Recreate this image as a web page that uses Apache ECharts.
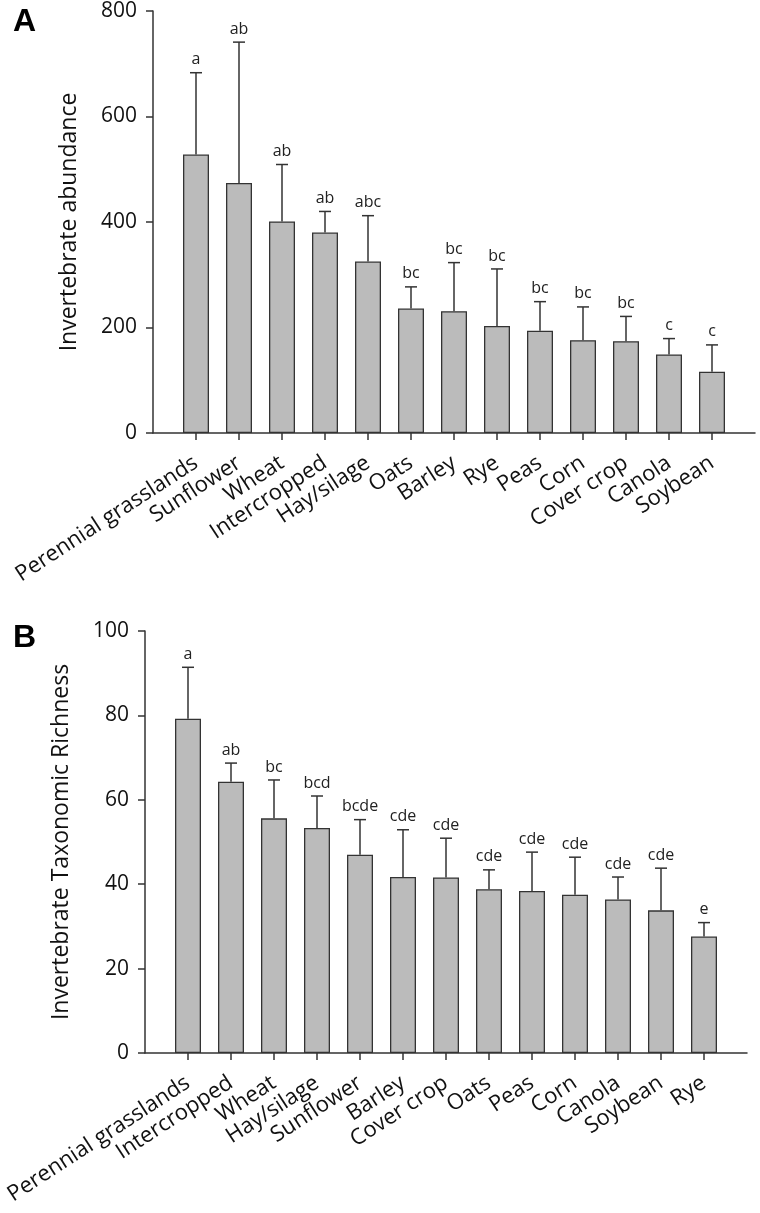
<!DOCTYPE html>
<html>
<head>
<meta charset="utf-8">
<script src="https://cdn.jsdelivr.net/npm/echarts@6/dist/echarts.min.js"></script>
<style>
  html, body { margin: 0; padding: 0; background: #fff; }
  #chart { width: 760px; height: 1213px; }
</style>
</head>
<body>
<div id="chart"></div>
<script>
// panel A - abundance
const catsA = ['Perennial grasslands', 'Sunflower', 'Wheat', 'Intercropped', 'Hay/silage', 'Oats', 'Barley', 'Rye', 'Peas', 'Corn', 'Cover crop', 'Canola', 'Soybean'];
const meanA = [528, 474, 401, 380, 325, 236, 231, 203, 194, 176, 174, 149, 116];
const errA = [155, 267, 108, 40, 87, 41, 92, 108, 55, 63, 47, 30, 51];
const letA = ['a', 'ab', 'ab', 'ab', 'abc', 'bc', 'bc', 'bc', 'bc', 'bc', 'bc', 'c', 'c'];

// panel B - taxonomic richness
const catsB = ['Perennial grasslands', 'Intercropped', 'Wheat', 'Hay/silage', 'Sunflower', 'Barley', 'Cover crop', 'Oats', 'Peas', 'Corn', 'Canola', 'Soybean', 'Rye'];
const meanB = [79.2, 64.3, 55.6, 53.3, 47.0, 41.7, 41.6, 38.8, 38.4, 37.5, 36.4, 33.8, 27.6];
const errB = [12.2, 4.4, 9.1, 7.6, 8.3, 11.2, 9.3, 4.6, 9.2, 8.9, 5.3, 10.0, 3.3];
const letB = ['a', 'ab', 'bc', 'bcd', 'bcde', 'cde', 'cde', 'cde', 'cde', 'cde', 'cde', 'cde', 'e'];

const ticksA = { min: 0, max: 800, interval: 200 };
const ticksB = { min: 0, max: 100, interval: 20 };

const font = '"Open Sans", "Noto Sans", sans-serif';
const ink = '#333';

var myChart = echarts.init(document.getElementById('chart'));

// half a category of empty space on both ends of the x axis
function pad(arr, fill) {
  return [fill].concat(arr, [fill]);
}

function makeErrorRender(letters) {
  return function (params, api) {
    const x = api.value(0);
    const top = api.coord([x, api.value(1)]);
    const up = api.coord([x, api.value(2)]);
    const lineStyle = { stroke: ink, lineWidth: 1.5 };
    return {
      type: 'group',
      children: [
        { type: 'line', shape: { x1: top[0], y1: top[1], x2: up[0], y2: up[1] }, style: lineStyle },
        { type: 'line', shape: { x1: up[0] - 6, y1: up[1], x2: up[0] + 6, y2: up[1] }, style: lineStyle },
        {
          type: 'text',
          style: {
            text: letters[params.dataIndex],
            x: up[0], y: up[1] - 5,
            textAlign: 'center', textVerticalAlign: 'bottom',
            font: '16px ' + font, fill: '#222'
          }
        }
      ]
    };
  };
}

function xAxisFor(cats, gridIndex) {
  return {
    type: 'category',
    gridIndex: gridIndex,
    data: pad(cats, ''),
    boundaryGap: false,
    axisLine: { lineStyle: { color: ink, width: 1.5 } },
    axisTick: {
      length: 7,
      interval: function (i) { return i > 0 && i < cats.length + 1; },
      lineStyle: { color: ink, width: 1.5 }
    },
    axisLabel: { interval: 0, rotate: 33, margin: 28, fontSize: 22, fontFamily: font, color: '#111' },
    splitLine: { show: false }
  };
}

function yAxisFor(name, ticks, gridIndex) {
  return {
    type: 'value',
    gridIndex: gridIndex,
    min: ticks.min, max: ticks.max, interval: ticks.interval,
    name: name,
    nameLocation: 'middle',
    nameGap: 72,
    nameTextStyle: { fontSize: 23, fontFamily: font, color: '#111' },
    axisLine: { show: true, lineStyle: { color: ink, width: 1.5 } },
    axisTick: { show: true, length: 7, lineStyle: { color: ink, width: 1.5 } },
    axisLabel: { margin: 16, fontSize: 21, fontFamily: font, color: '#111' },
    splitLine: { show: false }
  };
}

function barSeries(means, idx) {
  return {
    type: 'bar',
    xAxisIndex: idx, yAxisIndex: idx,
    data: pad(means, '-'),
    barWidth: 26,
    itemStyle: { color: '#bbbbbb', borderColor: ink, borderWidth: 1.3 },
    silent: true
  };
}

function errSeries(means, errs, letters, idx) {
  return {
    type: 'custom',
    xAxisIndex: idx, yAxisIndex: idx,
    renderItem: makeErrorRender(letters),
    data: means.map(function (m, i) { return [i + 1, m, m + errs[i]]; }),
    encode: { x: 0, y: [1, 2] },
    silent: true
  };
}

let option = {
  animation: false,
  backgroundColor: '#fff',
  grid: [
    { left: 153, top: 11, width: 602, height: 422, outerBoundsMode: 'none' },
    { left: 145, top: 631, width: 602, height: 422, outerBoundsMode: 'none' }
  ],
  xAxis: [xAxisFor(catsA, 0), xAxisFor(catsB, 1)],
  yAxis: [
    yAxisFor('Invertebrate abundance', ticksA, 0),
    yAxisFor('Invertebrate Taxonomic Richness', ticksB, 1)
  ],
  series: [
    barSeries(meanA, 0),
    errSeries(meanA, errA, letA, 0),
    barSeries(meanB, 1),
    errSeries(meanB, errB, letB, 1)
  ],
  graphic: [
    { type: 'text', left: 13, top: 6, style: { text: 'A', font: 'bold 32px "Liberation Sans", Arial, sans-serif', fill: '#000' } },
    { type: 'text', left: 13, top: 622, style: { text: 'B', font: 'bold 32px "Liberation Sans", Arial, sans-serif', fill: '#000' } }
  ]
};

myChart.setOption(option);
</script>
</body>
</html>
